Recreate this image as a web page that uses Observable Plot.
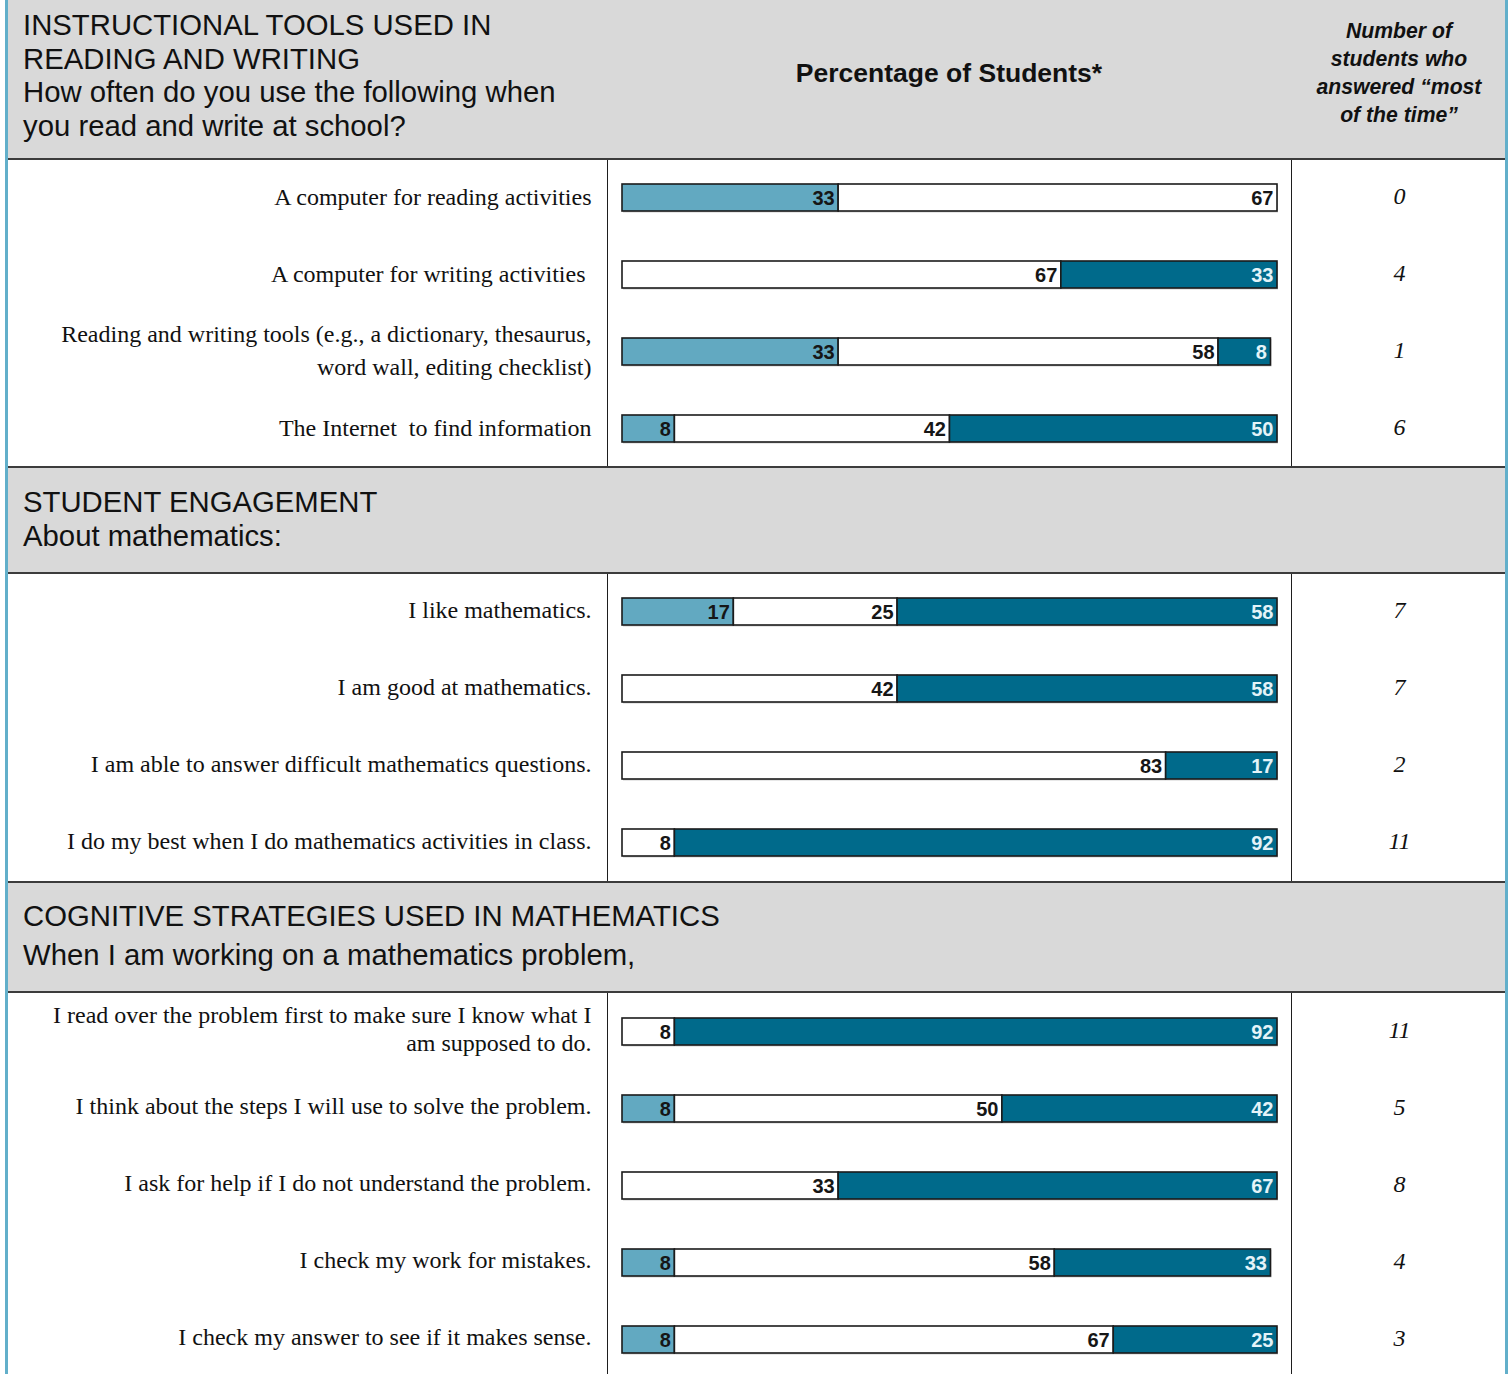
<!DOCTYPE html>
<html>
<head>
<meta charset="utf-8">
<script src="https://cdn.jsdelivr.net/npm/d3@7"></script>
<script src="https://cdn.jsdelivr.net/npm/@observablehq/plot@0.6"></script>
<style>
  html, body { margin: 0; padding: 0; background: #fff; }
  #page { position: relative; width: 1512px; height: 1374px; overflow: hidden; background: #fff; }
  .frame { position: absolute; top: 0; width: 3px; height: 1374px; background: #62afca; }
  .hdr { position: absolute; left: 8px; width: 1497px; background: #d9d9d9; }
  .hline { position: absolute; left: 8px; width: 1497px; height: 2px; background: #3c3c3c; }
  .htxt { position: absolute; left: 23px; font-family: "Liberation Sans", Arial, sans-serif; font-size: 29.3px; color: #111; white-space: pre; }
  .sec { position: absolute; left: 0; width: 1512px; }
  .vdiv { position: absolute; top: 0; width: 1.5px; background: #1e1e1e; }
  .sec svg { position: absolute; left: 0; top: 0; background: transparent; }
  .sec svg g[font-family*="Narrow"], .sec svg g[font-family*="Narrow"] text { font-stretch: condensed; }
</style>
</head>
<body>
<div id="page"></div>
<script>
// ---------- Data ----------
const cats = ["low", "mid", "high"];
const catColors = ["#62a9c1", "#ffffff", "#006a8b"];

const sec1Items = [
  "A computer for reading activities",
  "A computer for writing activities\u00a0",
  "Reading and writing tools (e.g., a dictionary, thesaurus,\nword wall, editing checklist)",
  "The Internet\u00a0 to find information"
];
const sec1Low   = [33, 0, 33, 8];
const sec1Mid   = [67, 67, 58, 42];
const sec1High  = [0, 33, 8, 50];
const sec1Count = ["0", "4", "1", "6"];

const sec2Items = [
  "I like mathematics.",
  "I am good at mathematics.",
  "I am able to answer difficult mathematics questions.",
  "I do my best when I do mathematics activities in class."
];
const sec2Low   = [17, 0, 0, 0];
const sec2Mid   = [25, 42, 83, 8];
const sec2High  = [58, 58, 17, 92];
const sec2Count = ["7", "7", "2", "11"];

const sec3Items = [
  "I read over the problem first to make sure I know what I\nam supposed to do.",
  "I think about the steps I will use to solve the problem.",
  "I ask for help if I do not understand the problem.",
  "I check my work for mistakes.",
  "I check my answer to see if it makes sense."
];
const sec3Low   = [0, 8, 0, 8, 8];
const sec3Mid   = [8, 50, 33, 58, 67];
const sec3High  = [92, 42, 67, 33, 25];
const sec3Count = ["11", "5", "8", "4", "3"];

const header1 = "INSTRUCTIONAL TOOLS USED IN\nREADING AND WRITING\nHow often do you use the following when\nyou read and write at school?";
const header2 = "STUDENT ENGAGEMENT\nAbout mathematics:";
const header3 = "COGNITIVE STRATEGIES USED IN MATHEMATICS\nWhen I am working on a mathematics problem,";
const colTitle = "Percentage of Students*";
const countTitle = "Number of\nstudents who\nanswered \u201cmost\nof the time\u201d";

// ---------- Layout helpers ----------
const page = document.getElementById("page");
function el(cls, style, text) {
  const d = document.createElement("div");
  d.className = cls;
  Object.assign(d.style, style);
  if (text != null) d.textContent = text;
  page.appendChild(d);
  return d;
}

// headers
el("hdr", {top: "0px", height: "158px"});
el("hdr", {top: "468px", height: "104px"});
el("hdr", {top: "883px", height: "108px"});

el("htxt", {top: "8px", lineHeight: "33.5px"}, header1);
el("htxt", {top: "485px", lineHeight: "34px"}, header2);
el("htxt", {top: "896px", lineHeight: "39px"}, header3);

el("", {position: "absolute", left: "749px", width: "400px", top: "57px", textAlign: "center",
  fontFamily: "'Liberation Sans', Arial, sans-serif", fontWeight: "bold", fontSize: "26.5px", lineHeight: "32px", color: "#111"}, colTitle);
el("", {position: "absolute", left: "1299px", width: "200px", top: "17px", textAlign: "center", whiteSpace: "pre",
  fontFamily: "'Liberation Sans', Arial, sans-serif", fontWeight: "bold", fontStyle: "italic", fontSize: "21.2px", lineHeight: "28px", color: "#111"}, countTitle);

// ---------- Sections ----------
function section(items, low, mid, high, counts, top, height, lineH) {
  const rows = items.flatMap((item, i) => [
    {item, cat: "low", value: low[i]},
    {item, cat: "mid", value: mid[i]},
    {item, cat: "high", value: high[i]}
  ]).filter(d => d.value > 0);
  const countRows = items.map((item, i) => ({item, count: counts[i]}));
  const labelFont = "'Liberation Sans Narrow', 'Arial Narrow', 'Liberation Sans', Arial, sans-serif";
  const serif = "'Liberation Serif', 'Times New Roman', serif";

  const chart = Plot.plot({
    width: 1512,
    height,
    marginLeft: 622,
    marginRight: 235,
    marginTop: 0,
    marginBottom: 0,
    x: {domain: [0, 100], axis: null},
    y: {domain: items, axis: null, padding: 0},
    color: {domain: cats, range: catColors},
    style: {background: "transparent"},
    marks: [
      Plot.barX(rows, {x: "value", y: "item", fill: "#cfcfcf", insetTop: 26, insetBottom: 23.5, dx: 1}),
      Plot.barX(rows, {x: "value", y: "item", fill: "cat", stroke: "#1b1b1b", strokeWidth: 1.6, insetTop: 25, insetBottom: 25}),
      Plot.text(rows, Plot.stackX2({
        x: "value", y: "item",
        text: d => d.cat !== "high" ? String(d.value) : null,
        textAnchor: "end", dx: -4, dy: 1,
        fill: "#161616", fontFamily: labelFont, fontWeight: "bold", fontSize: 20
      })),
      Plot.text(rows, Plot.stackX2({
        x: "value", y: "item",
        text: d => d.cat === "high" ? String(d.value) : null,
        textAnchor: "end", dx: -4, dy: 1,
        fill: "#e4f3f8", fontFamily: labelFont, fontWeight: "bold", fontSize: 20
      })),
      Plot.text(items, {
        y: d => d, text: d => d, frameAnchor: "left", dx: -31, dy: -4, textAnchor: "end",
        fontFamily: serif, fontSize: 24, fill: "#111", lineHeight: lineH
      }),
      Plot.text(countRows, {
        y: "item", text: "count", frameAnchor: "right", dx: 122, dy: -2, textAnchor: "middle",
        fontFamily: serif, fontSize: 24, fontStyle: "italic", fill: "#111"
      })
    ]
  });

  const wrap = el("sec", {top: top + "px", height: height + "px"});
  wrap.appendChild(chart);
  const v1 = document.createElement("div");
  v1.className = "vdiv"; v1.style.left = "606.5px"; v1.style.height = height + "px";
  const v2 = document.createElement("div");
  v2.className = "vdiv"; v2.style.left = "1290.5px"; v2.style.height = height + "px";
  wrap.appendChild(v1); wrap.appendChild(v2);
}

section(sec1Items, sec1Low, sec1Mid, sec1High, sec1Count, 158.5, 308, 1.375);
section(sec2Items, sec2Low, sec2Mid, sec2High, sec2Count, 572.5, 308, 1.3);
section(sec3Items, sec3Low, sec3Mid, sec3High, sec3Count, 992.5, 385, 1.17);

// horizontal separators above section overlays
el("hline", {top: "158px"});
el("hline", {top: "466px"});
el("hline", {top: "572px"});
el("hline", {top: "881px"});
el("hline", {top: "991px"});

// frame lines on top
el("frame", {left: "5px"});
el("frame", {left: "1505px"});
</script>
</body>
</html>
